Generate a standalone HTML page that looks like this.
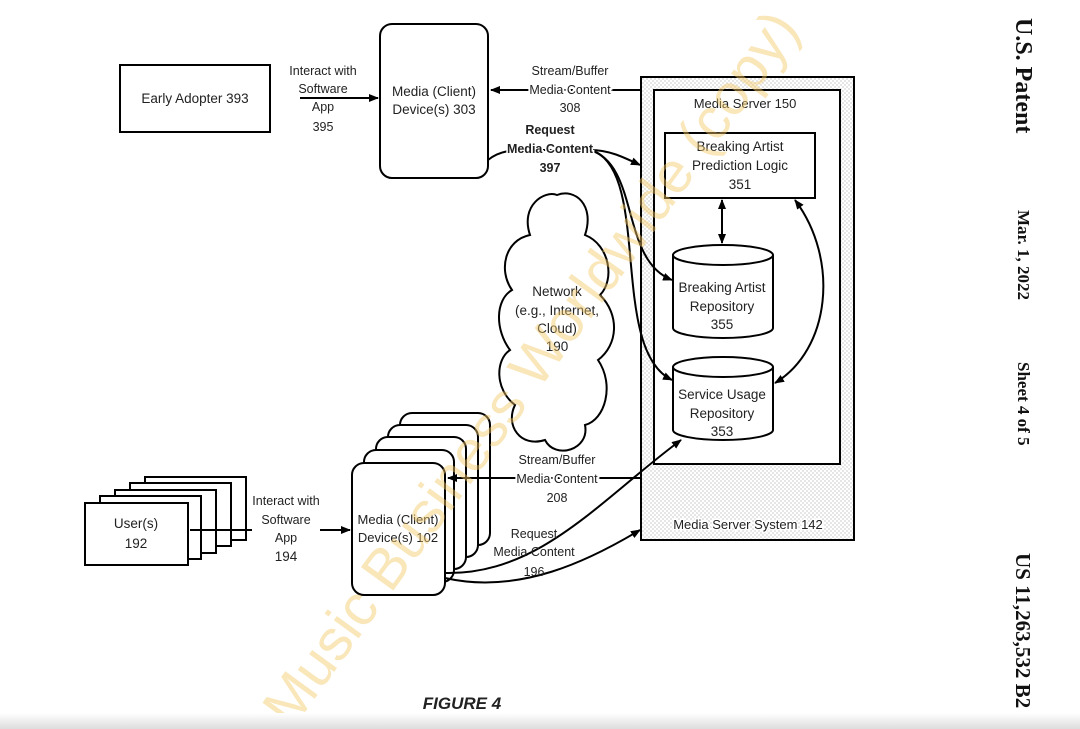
<!DOCTYPE html>
<html><head><style>
html,body{margin:0;padding:0;background:#fff;}
svg{display:block;}
text{font-family:"Liberation Sans",sans-serif;fill:#222;}
text.s{font-family:"Liberation Serif",serif;font-weight:bold;fill:#111;}
</style></head><body>
<svg width="1080" height="729" viewBox="0 0 1080 729" xmlns="http://www.w3.org/2000/svg" font-size="13.5">
<defs>
<marker id="a" markerWidth="10" markerHeight="10" refX="9" refY="5" orient="auto" markerUnits="userSpaceOnUse"><path d="M0,1 L10,5 L0,9 z" fill="#000"/></marker>
<marker id="b" markerWidth="10" markerHeight="10" refX="1" refY="5" orient="auto" markerUnits="userSpaceOnUse"><path d="M10,1 L0,5 L10,9 z" fill="#000"/></marker>
<pattern id="dots" width="4" height="4" patternUnits="userSpaceOnUse"><rect width="4" height="4" fill="#fff"/><circle cx="1" cy="1" r="0.6" fill="#aaa"/><circle cx="3" cy="3" r="0.6" fill="#aaa"/></pattern>
<linearGradient id="bot" x1="0" y1="0" x2="0" y2="1"><stop offset="0" stop-color="#fff"/><stop offset="1" stop-color="#ddd"/></linearGradient>
</defs>
<g fill="none" stroke="#000" stroke-width="2">
<rect x="120" y="65" width="150" height="67" fill="#fff"/>
<rect x="380" y="24" width="108" height="154" rx="12" fill="#fff"/>
<line x1="300" y1="98" x2="378" y2="98" marker-end="url(#a)"/>
<line x1="640" y1="90" x2="491" y2="90" marker-end="url(#a)"/>
<rect x="641" y="77" width="213" height="463" fill="url(#dots)"/>
<rect x="654" y="90" width="186" height="374" fill="#fff"/>
<rect x="665" y="133" width="150" height="65" fill="#fff"/>
<path d="M673,255 v73 a50,10 0 0 0 100,0 v-73" fill="#fff"/>
<ellipse cx="723" cy="255" rx="50" ry="10" fill="#fff"/>
<path d="M673,367 v63 a50,10 0 0 0 100,0 v-63" fill="#fff"/>
<ellipse cx="723" cy="367" rx="50" ry="10" fill="#fff"/>
<line x1="722" y1="200" x2="722" y2="243" marker-start="url(#b)" marker-end="url(#a)"/>
<path d="M795,200 C840,260 830,350 775,383" marker-start="url(#b)" marker-end="url(#a)"/>
<path d="M488,160 C500,150 515,150 525,150 L590,150 C610,150 625,158 640,165" marker-end="url(#a)"/>
<path d="M590,150 C640,165 620,260 672,280" marker-end="url(#a)"/>
<path d="M596,152 C650,180 610,350 672,380" marker-end="url(#a)"/>
<path d="M530,235 C520,205 545,190 557,195 C575,188 595,205 585,235 C610,245 615,280 600,295 C620,315 618,345 598,360 C615,385 605,420 585,425 C590,450 555,460 545,440 C520,448 505,425 515,405 C495,390 495,360 510,350 C495,330 495,300 512,290 C498,270 505,240 530,235 Z" fill="#fff"/>
<rect x="145" y="477" width="101" height="63" fill="#fff"/>
<rect x="130" y="483" width="101" height="63" fill="#fff"/>
<rect x="115" y="490" width="101" height="63" fill="#fff"/>
<rect x="100" y="496" width="101" height="63" fill="#fff"/>
<rect x="85" y="503" width="103" height="62" fill="#fff"/>
<line x1="190" y1="530" x2="252" y2="530"/>
<line x1="320" y1="530" x2="350" y2="530" marker-end="url(#a)"/>
<rect x="400" y="413" width="90" height="132" rx="12" fill="#fff"/>
<rect x="388" y="425" width="90" height="132" rx="12" fill="#fff"/>
<rect x="376" y="437" width="90" height="132" rx="12" fill="#fff"/>
<rect x="364" y="450" width="90" height="132" rx="12" fill="#fff"/>
<rect x="352" y="463" width="93" height="132" rx="12" fill="#fff"/>
<line x1="640" y1="478" x2="448" y2="478" marker-end="url(#a)"/>
<path d="M445,578 C520,595 590,560 640,530" marker-end="url(#a)"/>
<path d="M445,573 C540,575 600,500 681,440" marker-end="url(#a)"/>
</g>
<g text-anchor="middle">
<text x="195" y="103">Early Adopter 393</text>
<text x="434" y="96">Media (Client)</text><text x="434" y="114">Device(s) 303</text>
<text x="323" y="75" font-size="12.5">Interact with</text><text x="323" y="93" font-size="12.5">Software</text><text x="323" y="111" font-size="12.5">App</text><text x="323" y="131" font-size="12.5">395</text>
<text x="570" y="75" font-size="12.5">Stream/Buffer</text><text x="570" y="94" font-size="12.5" style="paint-order:stroke" stroke="#fff" stroke-width="4">Media Content</text><text x="570" y="112" font-size="12.5">308</text>
<text x="550" y="134" font-size="12.5" font-weight="bold">Request</text><text x="550" y="153" font-size="12.5" font-weight="bold" style="paint-order:stroke" stroke="#fff" stroke-width="3">Media Content</text><text x="550" y="172" font-size="12.5" font-weight="bold">397</text>
<text x="745" y="108" font-size="13">Media Server 150</text>
<text x="740" y="151">Breaking Artist</text><text x="740" y="170">Prediction Logic</text><text x="740" y="189">351</text>
<text x="722" y="292">Breaking Artist</text><text x="722" y="311">Repository</text><text x="722" y="329">355</text>
<text x="722" y="399">Service Usage</text><text x="722" y="418">Repository</text><text x="722" y="436">353</text>
<text x="557" y="296">Network</text><text x="557" y="315">(e.g., Internet,</text><text x="557" y="333">Cloud)</text><text x="557" y="351">190</text>
<text x="748" y="529" font-size="13" style="paint-order:stroke" stroke="#fff" stroke-width="3">Media Server System 142</text>
<text x="136" y="528">User(s)</text><text x="136" y="548">192</text>
<text x="286" y="505" font-size="12.5">Interact with</text><text x="286" y="524" font-size="12.5">Software</text><text x="286" y="542" font-size="12.5">App</text><text x="286" y="561" font-size="13.5">194</text>
<text x="398" y="524" font-size="13">Media (Client)</text><text x="398" y="542" font-size="13">Device(s) 102</text>
<text x="557" y="464" font-size="12.5">Stream/Buffer</text><text x="557" y="483" font-size="12.5" style="paint-order:stroke" stroke="#fff" stroke-width="4">Media Content</text><text x="557" y="502" font-size="12.5">208</text>
<text x="534" y="538" font-size="12.5">Request</text><text x="534" y="556" font-size="12.5">Media Content</text><text x="534" y="576" font-size="12.5">196</text>
<text x="462" y="709" font-size="17" font-weight="bold" font-style="italic">FIGURE 4</text>
</g>
<text x="0" y="0" transform="translate(292,730) rotate(-54)" font-size="58" style="fill:#f3c866;opacity:0.45">Music Business Worldwide (copy)</text>
<text class="s" transform="translate(1016,18) rotate(90)" font-size="24">U.S. Patent</text>
<text class="s" transform="translate(1018,210) rotate(90)" font-size="17">Mar. 1, 2022</text>
<text class="s" transform="translate(1018,362) rotate(90)" font-size="17">Sheet 4 of 5</text>
<text class="s" transform="translate(1016,553) rotate(90)" font-size="21">US 11,263,532 B2</text>
<rect x="0" y="713" width="1080" height="16" fill="url(#bot)"/>
</svg>
</body></html>
